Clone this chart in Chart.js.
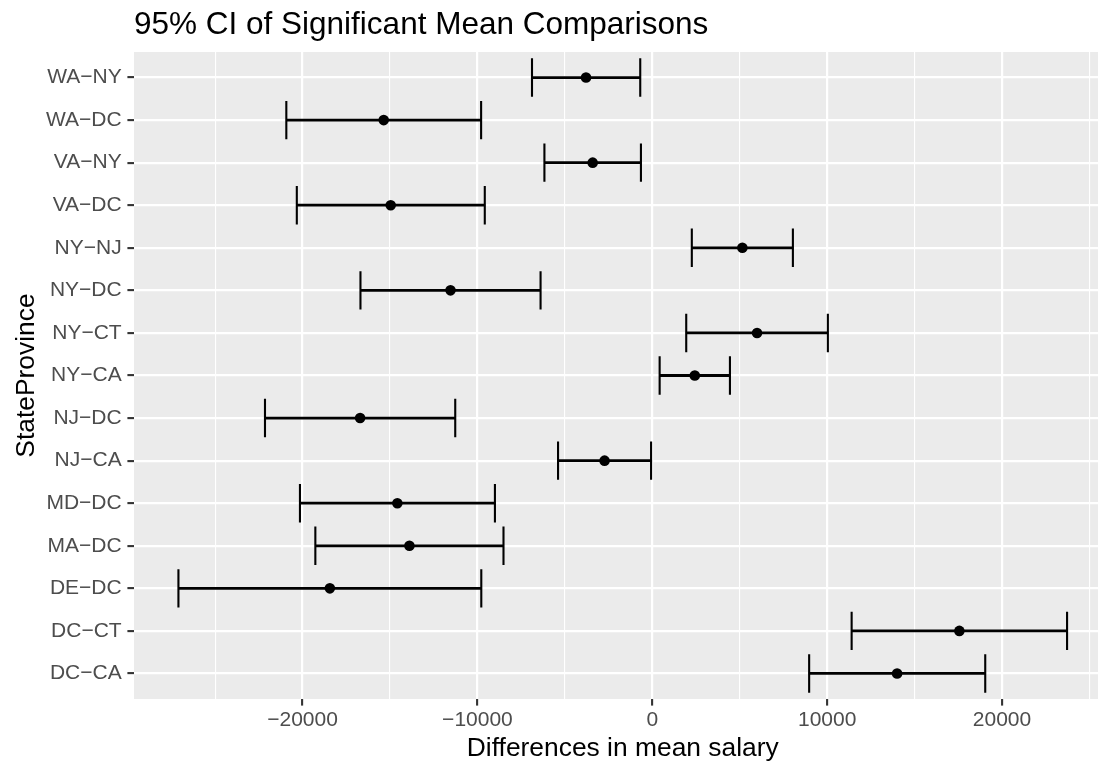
<!DOCTYPE html>
<html>
<head>
<meta charset="utf-8">
<title>95% CI of Significant Mean Comparisons</title>
<script src="https://cdn.jsdelivr.net/npm/chart.js@4.4.1/dist/chart.umd.min.js"></script>
<style>
  html, body { margin: 0; padding: 0; background: #fff; overflow: hidden; }
  #wrap { width: 1125px; height: 761px; }
</style>
</head>
<body>
<div id="wrap"><canvas id="ciChart" width="1125" height="761"></canvas></div>
<script>
// pairwise comparisons, listed top to bottom as in the plot
const comparisons = [
  "WA−NY", "WA−DC", "VA−NY", "VA−DC", "NY−NJ", "NY−DC", "NY−CT", "NY−CA",
  "NJ−DC", "NJ−CA", "MD−DC", "MA−DC", "DE−DC", "DC−CT", "DC−CA"
];
const meanDiff = [
  -3790, -15360, -3410, -14960, 5150, -11540, 5990, 2430,
  -16710, -2730, -14580, -13890, -18440, 17560, 14000
];
const lowerCI = [
  -6880, -20930, -6170, -20330, 2260, -16690, 1940, 420,
  -22150, -5390, -20150, -19270, -27100, 11400, 8970
];
const upperCI = [
  -690, -9790, -650, -9580, 8040, -6390, 10040, 4440,
  -11270, -70, -9000, -8510, -9780, 23720, 19040
];
const xTicks = [-25000, -20000, -15000, -10000, -5000, 0, 5000, 10000, 15000, 20000, 25000];

const plotTitle = "95% CI of Significant Mean Comparisons";
const xTitle = "Differences in mean salary";
const yTitle = "StateProvince";

const FONT = "'Liberation Sans', Arial, Helvetica, sans-serif";

// ggplot style 5% expansion of the continuous axis
const dataMin = Math.min(...lowerCI);
const dataMax = Math.max(...upperCI);
const pad = (dataMax - dataMin) * 0.05;

const isMajor = (v) => v % 10000 === 0;
const fmt = (v) => (v < 0 ? "\u2212" + Math.abs(v) : String(v));

// grey panel + titles
const ggDecor = {
  id: "ggDecor",
  beforeDraw(chart) {
    const { ctx, chartArea: a } = chart;
    ctx.save();
    ctx.fillStyle = "#FFFFFF";
    ctx.fillRect(0, 0, chart.width, chart.height);
    ctx.fillStyle = "#EBEBEB";
    ctx.fillRect(a.left, a.top, a.right - a.left, a.bottom - a.top);
    ctx.restore();
  },
  afterDraw(chart) {
    const { ctx, chartArea: a } = chart;
    ctx.save();
    ctx.fillStyle = "#000000";
    ctx.textBaseline = "alphabetic";

    ctx.font = "31.5px " + FONT;
    ctx.textAlign = "left";
    ctx.fillText(plotTitle, a.left, 33.5);

    ctx.font = "26.4px " + FONT;
    ctx.textAlign = "center";
    ctx.fillText(xTitle, (a.left + a.right) / 2, 755.5);

    ctx.translate(33.5, (a.top + a.bottom) / 2);
    ctx.rotate(-Math.PI / 2);
    ctx.fillText(yTitle, 0, 0);
    ctx.restore();
  }
};

new Chart(document.getElementById("ciChart").getContext("2d"), {
  data: {
    datasets: [
      {
        // mean difference
        type: "scatter",
        data: meanDiff.map((v, i) => ({ x: v, y: i })),
        pointStyle: "circle",
        pointRadius: 5.3,
        backgroundColor: "#000000",
        borderWidth: 0,
        order: 1
      },
      {
        // error bar caps
        type: "scatter",
        data: lowerCI.map((v, i) => ({ x: v, y: i }))
          .concat(upperCI.map((v, i) => ({ x: v, y: i }))),
        pointStyle: "line",
        rotation: 90,
        pointRadius: 19.2,
        borderColor: "#000000",
        borderWidth: 2.1,
        order: 2
      },
      {
        // error bar span
        type: "bar",
        indexAxis: "y",
        data: comparisons.map((c, i) => ({ y: i, x: [lowerCI[i], upperCI[i]] })),
        backgroundColor: "#000000",
        borderWidth: 0,
        barThickness: 2.1,
        order: 3
      }
    ]
  },
  options: {
    responsive: false,
    animation: false,
    devicePixelRatio: 1,
    events: [],
    layout: { autoPadding: false, padding: { top: 52, right: 13.5, left: 0, bottom: 0 } },
    plugins: {
      legend: { display: false },
      tooltip: { enabled: false },
      title: { display: false }
    },
    scales: {
      x: {
        type: "linear",
        min: dataMin - pad,
        max: dataMax + pad,
        offset: false,
        afterBuildTicks: (s) => { s.ticks = xTicks.map((v) => ({ value: v })); },
        afterFit: (s) => { s.height = 62; s.paddingLeft = 0; s.paddingRight = 0; },
        border: { display: false },
        grid: {
          offset: false,
          color: "#FFFFFF",
          lineWidth: (c) => (isMajor(c.tick.value) ? 2.2 : 1.1),
          tickLength: 6.6,
          tickWidth: 2.1,
          tickColor: (c) => (isMajor(c.tick.value) ? "#333333" : "rgba(0,0,0,0)")
        },
        ticks: {
          autoSkip: false,
          maxRotation: 0,
          minRotation: 0,
          padding: 2,
          color: "#4D4D4D",
          font: { family: FONT, size: 21 },
          callback: (v) => (isMajor(v) ? fmt(v) : "")
        }
      },
      y: {
        type: "linear",
        reverse: true,
        offset: false,
        min: -0.6,
        max: comparisons.length - 0.4,
        afterBuildTicks: (s) => { s.ticks = comparisons.map((c, i) => ({ value: i })); },
        afterFit: (s) => { s.width = 134; s.paddingTop = 0; s.paddingBottom = 0; },
        border: { display: false },
        grid: {
          offset: false,
          color: "#FFFFFF",
          lineWidth: 2.2,
          tickLength: 6.6,
          tickWidth: 2.1,
          tickColor: "#333333"
        },
        ticks: {
          autoSkip: false,
          padding: 5.7,
          color: "#4D4D4D",
          font: { family: FONT, size: 21 },
          callback: (v) => comparisons[v]
        }
      }
    }
  },
  plugins: [ggDecor]
});
</script>
</body>
</html>
